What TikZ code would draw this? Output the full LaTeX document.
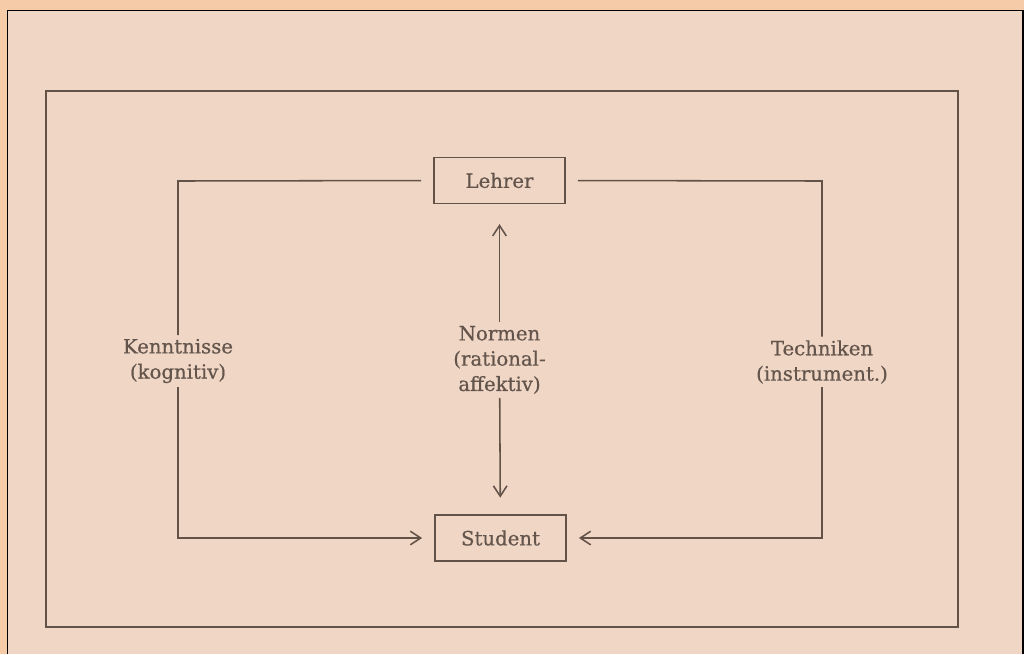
\documentclass[tikz,border=0pt]{standalone}
\usepackage{fontspec}
\setmainfont{DejaVu Serif}
\newfontfamily\printfont{DejaVu Serif}[FakeBold=0.6]
\usetikzlibrary{arrows.meta}
\definecolor{margin}{RGB}{245,203,168}
\definecolor{paper}{RGB}{240,214,197}
\definecolor{ink}{RGB}{98,82,72}
\definecolor{print}{RGB}{100,85,76}
\tikzset{
    rolebox/.style = {draw = ink, line width = 1.1pt, text = print, minimum width = 3.28cm, minimum height = 1.14cm, font = \printfont\fontsize{14}{18}\selectfont},
    linetext/.style = {align = center, text = print, inner sep = 2.5pt, font = \printfont\fontsize{14}{18}\selectfont},
    link/.style = {draw = ink, line width = 1.1pt},
    arrowed/.style = {link, -{Straight Barb[length = 2.6mm, width = 3.4mm]}}
}
\begin{document}
\begin{tikzpicture}[x = 0.025cm, y = -0.025cm]
            \useasboundingbox (0,0) rectangle (1024,654);
            \fill[margin] (0,0) rectangle (1024,654);
            \fill[paper] (7.5,10.5) rectangle (1022.5,654);
            \draw[line width = 1.4pt] (7.5,654) -- (7.5,10.5) -- (1022.5,10.5) -- (1022.5,654);
            \draw[ink, line width = 1.4pt] (46,91) rectangle (958,627);
            % the two roles
            \node[rolebox] (lehrer) at (499.5,180.5) {Lehrer};
            \node[rolebox] (student) at (500.5,538) {Student};
            % what passes between them
            \node[linetext] (kennt) at (178,361) {Kenntnisse\\(kognitiv)};
            \node[linetext] (normen) at (499.5,360) {Normen\\(rational-\\affektiv)};
            \node[linetext] (tech) at (822,362) {Techniken\\(instrument.)};
            \coordinate (tl) at (178,181);
            \coordinate (bl) at (178,538);
            \coordinate (tr) at (822,181);
            \coordinate (br) at (822,538);
            \draw[link, shorten <= 0.3cm] (lehrer.west) -- (tl) -- (kennt);
            \draw[arrowed, shorten >= 0.3cm] (kennt) -- (bl) -- (student.west);
            \draw[link, shorten <= 0.3cm] (lehrer.east) -- (tr) -- (tech);
            \draw[arrowed, shorten >= 0.3cm] (tech) -- (br) -- (student.east);
            \draw[arrowed, shorten >= 0.5cm] (normen) -- (lehrer);
            \draw[arrowed, shorten >= 0.42cm] (normen) -- (student);
\end{tikzpicture}
\end{document}
